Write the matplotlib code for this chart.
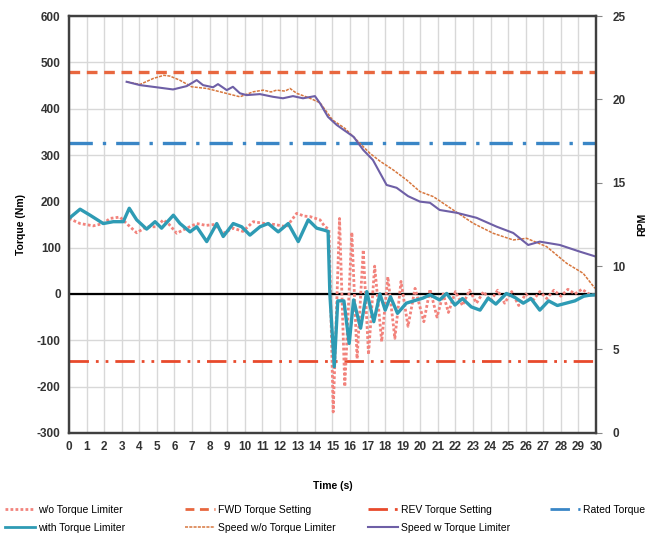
import matplotlib
matplotlib.use("Agg")
import matplotlib.pyplot as plt

plt.rcParams["font.family"] = ["Liberation Sans", "DejaVu Sans"]
plt.rcParams["axes.unicode_minus"] = False

# torque without limiter (Nm)
wo_t = [0, 0.63, 1.38, 1.95, 2.33, 2.9, 3.28, 3.85, 4.42, 4.99, 5.37, 5.7, 6.13, 6.7, 7.27,
        7.8, 8.3, 8.78, 9.35, 9.9, 10.49, 11.15, 11.7, 12.39, 12.96, 13.4, 13.72, 14.29,
        14.57, 14.8, 15.04, 15.4, 15.7, 16.1, 16.4, 16.75, 17.05, 17.4, 17.8, 18.15, 18.55,
        18.9, 19.3, 19.7, 20.2, 20.55, 20.95, 21.3, 21.6, 22.0, 22.4, 22.8, 23.2, 23.6,
        24.0, 24.4, 24.8, 25.2, 25.6, 26.0, 26.4, 26.8, 27.2, 27.6, 28.0, 28.4, 28.8, 29.2,
        29.6, 30.0]
wo_torque = [163, 152, 147, 152, 163, 166, 152, 132, 145, 145, 160, 150, 131, 142, 152,
             148, 150, 131, 142, 135, 156, 152, 150, 145, 174, 168, 167, 160,
             145, 140, -255, 163, -200, 133, -140, 95, -131, 60, -103, 37, -96,
             27, -70, 12, -60, 10, -50, 0, -40, 5, -25, 8, -20, 5,
             -15, 8, -20, 5, -25, 0, -15, 5, -10, 8, -5, 10, 0, 10,
             0, -3]

# torque with limiter (Nm)
w_t = [0, 0.63, 1.2, 1.95, 2.52, 3.09, 3.43, 3.85, 4.42, 4.9, 5.27, 5.94, 6.32, 6.89, 7.27,
       7.84, 8.41, 8.78, 9.35, 9.83, 10.3, 10.87, 11.34, 11.91, 12.48, 13.05, 13.62, 14.1,
       14.5, 14.75, 14.85, 15.1, 15.3, 15.65, 15.95, 16.2, 16.6, 16.95, 17.35, 17.7, 18.0,
       18.3, 18.7, 19.2, 19.8, 20.15, 20.55, 21.1, 21.5, 21.97, 22.4, 22.9, 23.4, 23.86,
       24.3, 24.9, 25.4, 25.86, 26.3, 26.8, 27.3, 27.8, 28.3, 28.8, 29.3, 29.6, 30.0]
w_torque = [163, 183, 170, 152, 156, 156, 185, 160, 140, 156, 142, 170, 152, 134, 145,
            113, 152, 124, 152, 145, 127, 145, 152, 134, 152, 113, 160, 142,
            138, 135, 0, -157, -15, -15, -107, -13, -74, 5, -60, 0, -35,
            -6, -42, -20, -13, -9, -2, -13, 1, -24, -10, -28, -35, -9,
            -22, 1, -8, -20, -10, -35, -15, -25, -20, -15, -5, -3, -2]

# speed without limiter (RPM)
swo_t = [3.28, 4.04, 4.8, 5.4, 5.75, 6.3, 6.98, 7.84, 8.6, 9.2, 9.73, 10.49, 11.06, 11.5,
         11.82, 12.3, 12.58, 12.96, 13.72, 14.29, 15.0, 15.7, 16.37, 17.13, 17.7, 18.46,
         19.22, 19.98, 20.74, 21.87, 23.01, 24.15, 25.29, 26.05, 27.19, 28.33, 29.27, 29.94]
swo_rpm = [21.06, 20.9, 21.26, 21.45, 21.4, 21.16, 20.76, 20.66, 20.46, 20.3, 20.16, 20.46,
           20.56, 20.45, 20.56, 20.5, 20.66, 20.37, 20.07, 19.8, 18.77, 18.27, 17.57, 16.77,
           16.3, 15.77, 15.17, 14.47, 14.17, 13.37, 12.57, 11.97, 11.57, 11.67, 11.17, 10.17,
           9.57, 8.67]

# speed with limiter (RPM)
sw_t = [3.28, 4.04, 4.99, 5.92, 6.7, 7.27, 7.63, 8.2, 8.48, 8.98, 9.33, 9.73, 10.11, 10.87,
        11.61, 12.18, 12.75, 13.32, 14.0, 14.29, 14.74, 15.0, 15.24, 15.6, 16.2, 16.75,
        17.3, 17.7, 18.08, 18.65, 19.3, 19.98, 20.55, 21.1, 22.07, 23.2, 24.34, 25.29,
        26.14, 26.8, 27.94, 29.08, 30.0]
sw_rpm = [21.06, 20.86, 20.73, 20.6, 20.8, 21.16, 20.86, 20.73, 20.92, 20.56, 20.76, 20.37,
          20.26, 20.32, 20.16, 20.07, 20.2, 20.07, 20.2, 19.77, 18.96, 18.7, 18.47, 18.2,
          17.76, 16.97, 16.37, 15.6, 14.87, 14.7, 14.2, 13.87, 13.8, 13.37, 13.2, 12.9,
          12.37, 11.99, 11.27, 11.47, 11.27, 10.87, 10.57]

fwd_setting = 480
rev_setting = -145
rated_torque = 325

fig = plt.figure(figsize=(6.51, 5.37), dpi=100)
ax = fig.add_axes([0.106, 0.194, 0.8095, 0.776])
ax2 = ax.twinx()

pink = "#F2837C"
teal = "#2E9BB4"
orange = "#E8673F"
blue = "#3A86C6"
purple = "#6E5FA6"
brown = "#D7773E"

ax.axhline(0, color="black", lw=1.6, zorder=2)
h_wo, = ax.plot(wo_t, wo_torque, color=pink, lw=2.0, ls=(0, (1, 0.8)), zorder=3,
                label="w/o Torque Limiter")
h_w, = ax.plot(w_t, w_torque, color=teal, lw=2.4, zorder=4, label="with Torque Limiter")
h_fwd = ax.axhline(fwd_setting, color=orange, lw=2.4, ls=(0, (3.2, 2.0)),
                   label="FWD Torque Setting")
h_rev = ax.axhline(rev_setting, color="#E84A2C", lw=2.0, ls=(0, (7, 2.5, 1, 2.5, 1, 2.5)),
                   label="REV Torque Setting")
h_rated = ax.axhline(rated_torque, color=blue, lw=2.4, ls=(0, (7, 3, 1, 3)),
                     label="Rated Torque")

h_swo, = ax2.plot(swo_t, swo_rpm, color=brown, lw=1.1, ls=(0, (2, 0.8)),
                  label="Speed w/o Torque Limiter")
h_sw, = ax2.plot(sw_t, sw_rpm, color=purple, lw=1.5, label="Speed w Torque Limiter")

ax.set_xlim(0, 30)
ax.set_ylim(-300, 600)
ax2.set_ylim(0, 25)
ax.set_xticks(range(0, 31))
ax.set_yticks(range(-300, 601, 100))
ax2.set_yticks(range(0, 26, 5))

ax.grid(True, color="#D8D8D8", lw=1.0)
ax.set_axisbelow(True)

for a in (ax, ax2):
    for s in a.spines.values():
        s.set_color("#404040")
        s.set_linewidth(1.6)

ax.tick_params(axis="both", length=0, pad=6)
ax2.tick_params(axis="y", length=4, width=0.8, color="#888888", pad=8)
for lab in ax.get_xticklabels() + ax.get_yticklabels() + ax2.get_yticklabels():
    lab.set_fontsize(8.5)
    lab.set_fontweight("bold")
    lab.set_color("#333333")

ax.set_xlabel("Time (s)", fontsize=7.5, fontweight="bold", labelpad=20)
ax.set_ylabel("Torque (Nm)", fontsize=7.5, fontweight="bold", labelpad=8)
ax2.set_ylabel("RPM", fontsize=7.5, fontweight="bold", labelpad=8)

# legend: four equally spaced columns, like the spreadsheet original
columns = [[h_wo, h_w], [h_fwd, h_swo], [h_rev, h_sw], [h_rated]]
col_x = [5, 185, 368, 550]
for hs, x in zip(columns, col_x):
    leg = fig.legend(hs, [h.get_label() for h in hs], loc="upper left",
                     bbox_to_anchor=(x / 651, 1 - 505 / 537), frameon=False, fontsize=7.5,
                     handlelength=2.9, handletextpad=0.3, labelspacing=0.75,
                     borderpad=0, borderaxespad=0)
    for ln in leg.get_lines():
        ln.set_linewidth(min(ln.get_linewidth(), 2.0))

fig.savefig("out.png", dpi=100)
